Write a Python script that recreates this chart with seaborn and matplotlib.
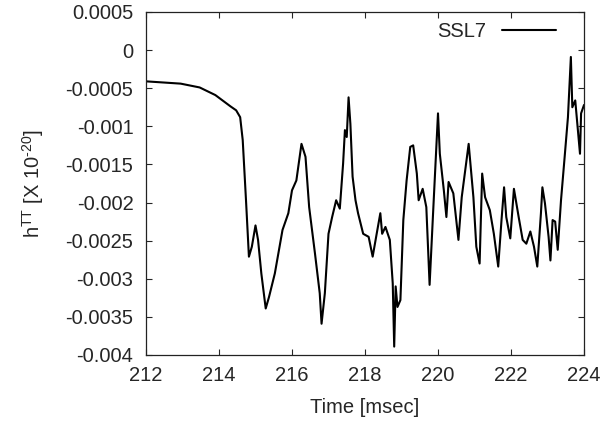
import pandas as pd
import matplotlib
matplotlib.use("Agg")
import matplotlib.pyplot as plt
import seaborn as sns

# waveform (time in msec, strain)
time_ms = [212.0, 212.95, 213.47, 213.9, 214.32, 214.47, 214.58, 214.65, 214.74, 214.82,
           214.9, 215.0, 215.07, 215.16, 215.28, 215.37, 215.53, 215.74, 215.9, 216.0,
           216.12, 216.26, 216.37, 216.47, 216.63, 216.76, 216.81, 216.9, 217.0, 217.1,
           217.21, 217.31, 217.4, 217.45, 217.5, 217.55, 217.6, 217.66, 217.74, 217.81,
           217.95, 218.1, 218.21, 218.32, 218.42, 218.47, 218.56, 218.68, 218.76, 218.8,
           218.84, 218.89, 218.97, 219.05, 219.14, 219.24, 219.32, 219.42, 219.47, 219.58,
           219.68, 219.77, 219.86, 220.0, 220.05, 220.16, 220.23, 220.29, 220.42, 220.56,
           220.65, 220.84, 220.97, 221.05, 221.14, 221.21, 221.29, 221.42, 221.53, 221.65,
           221.74, 221.81, 221.87, 221.98, 222.08, 222.21, 222.32, 222.42, 222.53, 222.63,
           222.72, 222.82, 222.86, 222.93, 223.03, 223.08, 223.14, 223.21, 223.28, 223.37,
           223.47, 223.56, 223.64, 223.68, 223.76, 223.89, 223.92, 224.0]
h_tt = [-0.00041, -0.00044, -0.00049, -0.00059, -0.00074, -0.00079, -0.00088, -0.00118, -0.00197, -0.00271,
        -0.00258, -0.00230, -0.00249, -0.00293, -0.00339, -0.00324, -0.00293, -0.00236, -0.00214, -0.00184,
        -0.00171, -0.00123, -0.00140, -0.00206, -0.00267, -0.00319, -0.00359, -0.00319, -0.00241, -0.00219,
        -0.00197, -0.00208, -0.00149, -0.00105, -0.00114, -0.00062, -0.00097, -0.00166, -0.00197, -0.00214,
        -0.00241, -0.00245, -0.00271, -0.00241, -0.00214, -0.00241, -0.00232, -0.00249, -0.00306, -0.00389,
        -0.00310, -0.00337, -0.00328, -0.00223, -0.00171, -0.00127, -0.00125, -0.00162, -0.00197, -0.00182,
        -0.00206, -0.00308, -0.00219, -0.00083, -0.00136, -0.00184, -0.00219, -0.00173, -0.00188, -0.00249,
        -0.00193, -0.00123, -0.00193, -0.00258, -0.00280, -0.00162, -0.00193, -0.00210, -0.00241, -0.00284,
        -0.00223, -0.00180, -0.00219, -0.00247, -0.00182, -0.00219, -0.00249, -0.00254, -0.00238, -0.00258,
        -0.00284, -0.00214, -0.00180, -0.00201, -0.00245, -0.00276, -0.00223, -0.00225, -0.00262, -0.00197,
        -0.00140, -0.00088, -0.00009, -0.00075, -0.00066, -0.00136, -0.00083, -0.00072]

x_ticks = [212, 214, 216, 218, 220, 222, 224]
y_ticks = [0.0005, 0, -0.0005, -0.001, -0.0015, -0.002, -0.0025, -0.003, -0.0035, -0.004]
y_tick_labels = ["0.0005", "0", "-0.0005", "-0.001", "-0.0015", "-0.002",
                 "-0.0025", "-0.003", "-0.0035", "-0.004"]

df = pd.DataFrame({"Time": time_ms, "hTT": h_tt, "run": "SSL7"})

sns.set_style("ticks")
plt.rcParams["font.family"] = ["Liberation Sans", "DejaVu Sans"]
plt.rcParams["mathtext.fontset"] = "custom"
plt.rcParams["mathtext.rm"] = "Liberation Sans"

fig = plt.figure(figsize=(6.03, 4.22), dpi=100)
ax = fig.add_axes([0.2421, 0.1588, 0.7264, 0.8128])

sns.lineplot(data=df, x="Time", y="hTT", hue="run", palette=["black"],
             linewidth=1.5, ax=ax)

ax.set_xlim(212, 224)
ax.set_ylim(-0.004, 0.0005)
ax.set_xticks(x_ticks)
ax.set_xticklabels([str(t) for t in x_ticks])
ax.set_yticks(y_ticks)
ax.set_yticklabels(y_tick_labels)
ax.tick_params(direction="in", length=4, width=0.8, labelsize=14.5,
               top=True, right=True)
ax.tick_params(axis="x", pad=8)
ax.tick_params(axis="y", pad=9)
for s in ax.spines.values():
    s.set_linewidth(0.9)
    s.set_color("#222222")

ax.set_xlabel("Time [msec]", fontsize=14.5, labelpad=9)
ax.set_ylabel(r"h$^{\text{TT}}$ [X 10$^{\text{-20}}$]", fontsize=14.5, labelpad=14)

ax.legend(loc="upper right", bbox_to_anchor=(1 - 25 / 438, 0.98), frameon=False,
          markerfirst=False, fontsize=14.5, handlelength=2.7, handletextpad=0.75,
          borderaxespad=0.0, borderpad=0.15)

fig.savefig("out.png", dpi=100)
